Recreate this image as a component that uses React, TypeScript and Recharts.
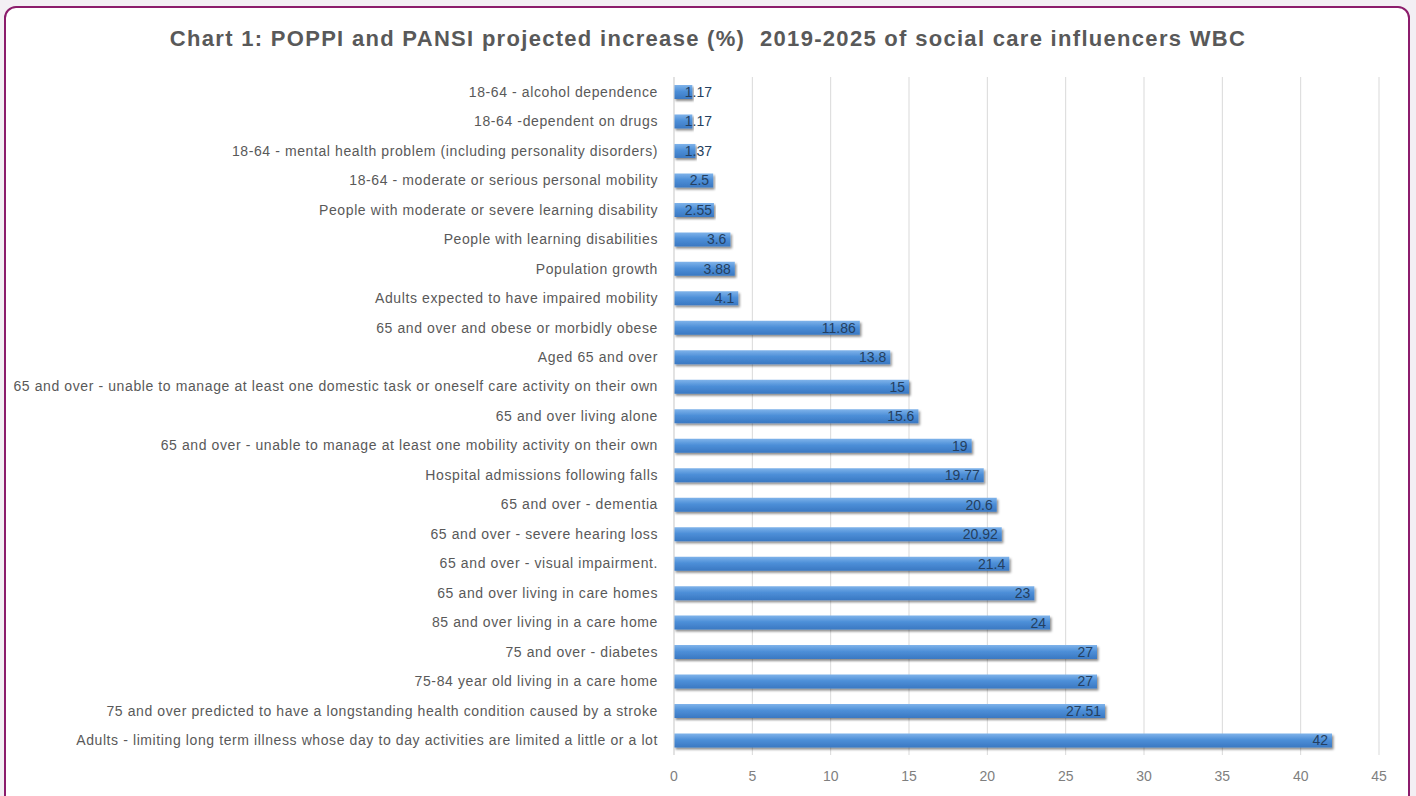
import React from 'react';
import { BarChart, Bar, XAxis, YAxis, CartesianGrid, LabelList } from 'recharts';

const categories = [
  '18-64 - alcohol dependence',
  '18-64 -dependent on drugs',
  '18-64 - mental health problem (including personality disorders)',
  '18-64 - moderate or serious personal mobility',
  'People with moderate or severe learning disability',
  'People with learning disabilities',
  'Population growth',
  'Adults expected to have impaired mobility',
  '65 and over and obese or morbidly obese',
  'Aged 65 and over',
  '65 and over - unable to manage at least one domestic task or oneself care activity on their own',
  '65 and over living alone',
  '65 and over - unable to manage at least one mobility activity on their own',
  'Hospital admissions following falls',
  '65 and over - dementia',
  '65 and over - severe hearing loss',
  '65 and over - visual impairment.',
  '65 and over living in care homes',
  '85 and over living in a care home',
  '75 and over - diabetes',
  '75-84 year old living in a care home',
  '75 and over predicted to have a longstanding health condition caused by a stroke',
  'Adults - limiting long term illness whose day to day activities are limited a little or a lot',
];

const increase = [
  1.17, 1.17, 1.37, 2.5, 2.55, 3.6, 3.88, 4.1, 11.86, 13.8, 15, 15.6, 19, 19.77, 20.6, 20.92, 21.4, 23,
  24, 27, 27, 27.51, 42,
];

const xTicks = [0, 5, 10, 15, 20, 25, 30, 35, 40, 45];

const data = categories.map((name, i) => ({ name, value: increase[i] }));

const font = '"Liberation Sans", Arial, sans-serif';

const ValueLabel = (props: any) => {
  const { x, y, width, height, value } = props;
  const text = String(value);
  const approx = text.length * 7.5;
  let tx = x + width - 4;
  if (tx - approx < x + 8) tx = x + 8 + approx;
  return (
    <text
      x={tx}
      y={y + height / 2}
      dy="0.35em"
      textAnchor="end"
      fontSize={14}
      fontFamily={font}
      fill="#243f60"
    >
      {text}
    </text>
  );
};

export default function App() {
  return (
    <div
      style={{
        position: 'absolute',
        left: 0,
        top: 0,
        width: 1416,
        height: 796,
        background: '#f3eff4',
        overflow: 'hidden',
      }}
    >
      <div
        style={{
          position: 'absolute',
          left: 4,
          top: 6,
          width: 1402,
          height: 820,
          border: '2px solid #8c1c6c',
          borderRadius: 12,
          background: '#fff',
        }}
      />
      <div
        style={{
          position: 'absolute',
          left: 0,
          top: 26,
          width: 1416,
          textAlign: 'center',
          fontFamily: font,
          fontWeight: 'bold',
          fontSize: 22,
          letterSpacing: 1.3,
          color: '#595959',
        }}
      >
        Chart 1: POPPI and PANSI projected increase (%)&nbsp;&nbsp;2019-2025 of social care influencers WBC
      </div>
      <div style={{ position: 'absolute', left: 0, top: 0 }}>
        <BarChart
          width={1416}
          height={796}
          data={data}
          layout="vertical"
          margin={{ top: 77, right: 37, bottom: 11, left: 0 }}
          barCategoryGap={8}
        >
          <defs>
            <linearGradient id="barFill" x1="0" y1="0" x2="0" y2="1">
              <stop offset="0%" stopColor="#7fb3ea" />
              <stop offset="45%" stopColor="#4d8fd8" />
              <stop offset="100%" stopColor="#3a78c2" />
            </linearGradient>
            <filter id="barShadow" x="-5%" y="-30%" width="110%" height="170%">
              <feDropShadow dx="1.5" dy="2" stdDeviation="1.2" floodColor="#000" floodOpacity="0.45" />
            </filter>
          </defs>
          <CartesianGrid horizontal={false} stroke="#d9d9d9" />
          <XAxis
            type="number"
            domain={[0, 45]}
            ticks={xTicks}
            axisLine={false}
            tickLine={false}
            tickSize={8}
            tickMargin={8}
            height={30}
            tick={{ fill: '#7f7f7f', fontSize: 14, fontFamily: font }}
          />
          <YAxis
            type="category"
            dataKey="name"
            width={674}
            interval={0}
            axisLine={{ stroke: '#d9d9d9' }}
            tickLine={false}
            tickSize={4}
            tickMargin={12}
            tick={{ fill: '#595959', fontSize: 14, fontFamily: font, letterSpacing: 0.6 }}
          />
          <Bar
            dataKey="value"
            fill="url(#barFill)"
            barSize={14}
            filter="url(#barShadow)"
            isAnimationActive={false}
          >
            <LabelList dataKey="value" content={ValueLabel} />
          </Bar>
        </BarChart>
      </div>
    </div>
  );
}
